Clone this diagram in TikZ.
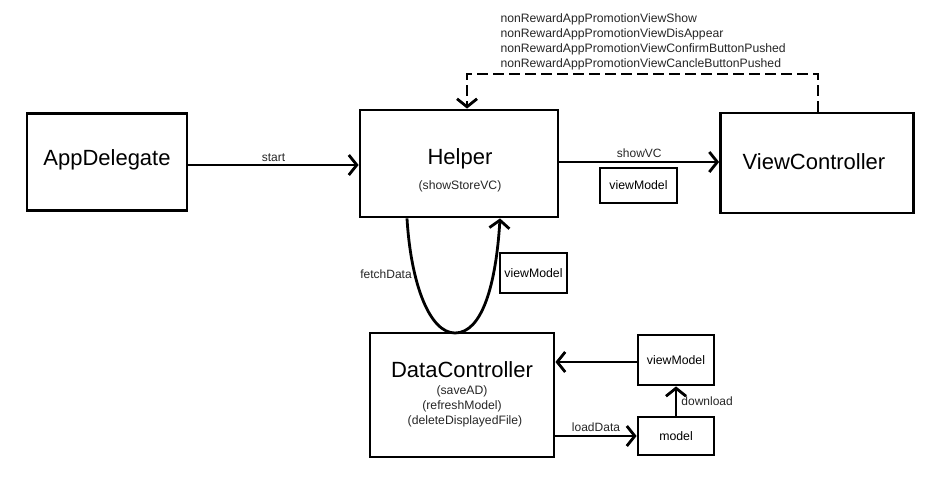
\documentclass[tikz,border=0pt]{standalone}
\usepackage{fontspec}
\setmainfont{Liberation Sans}
\usetikzlibrary{arrows.meta}
\tikzset{
  box/.style={draw, line width=2.8pt, rectangle, inner sep=0pt, align=center},
  bigtxt/.style={font=\fontsize{22}{26}\selectfont},
  smalltxt/.style={font=\fontsize{12.2}{14}\selectfont, text=black!85},
  lbl/.style={font=\fontsize{12}{14}\selectfont, text=black!85},
  arr/.style={line width=2.8pt, -{Straight Barb[length=8pt,width=20pt]}},
  dsh/.style={line width=2.8pt, dash pattern=on 11pt off 5pt, -{Straight Barb[length=8pt,width=20pt]}},
}
\begin{document}
\begin{tikzpicture}[x=1pt,y=-1pt]
\useasboundingbox (0,0) rectangle (927,482);
% boxes
\node[box, minimum width=160pt, minimum height=97pt] (app) at (107,162) {};
\node[bigtxt] (apptxt) at (107,160) {AppDelegate};
\node[box, minimum width=198pt, minimum height=107pt] (helper) at (459,163.5) {};
\node[bigtxt] (helpertxt) at (460,159) {Helper};
\node[smalltxt] (helpersub) at (460,186) {(showStoreVC)};
\node[box, minimum width=193pt, minimum height=100pt] (vc) at (817,163) {};
\node[bigtxt] (vctxt) at (814,162) {ViewController};
\node[box, minimum width=184pt, minimum height=124pt] (dc) at (462,395) {};
\node[bigtxt] (dctxt) at (462,370) {DataController};
\node[smalltxt] (dc1) at (462,391) {(saveAD)};
\node[smalltxt] (dc2) at (462,406) {(refreshModel)};
\node[smalltxt] (dc3) at (465,421) {(deleteDisplayedFile)};
\node[box, minimum width=77pt, minimum height=35pt, font=\fontsize{12.3}{14}\selectfont] (vm1) at (638.5,185.5) {viewModel};
\node[box, minimum width=67pt, minimum height=40pt, font=\fontsize{12.3}{14}\selectfont] (vm2) at (533.5,273) {viewModel};
\node[box, minimum width=76pt, minimum height=50pt, font=\fontsize{12.3}{14}\selectfont] (vm3) at (676,360) {viewModel};
\node[box, minimum width=76pt, minimum height=38pt, font=\fontsize{12.3}{14}\selectfont] (model) at (676,436) {model};
% event texts
\node[smalltxt, anchor=west] (e1) at (497,19) {nonRewardAppPromotionViewShow};
\node[smalltxt, anchor=west] (e2) at (497,34) {nonRewardAppPromotionViewDisAppear};
\node[smalltxt, anchor=west] (e3) at (497,49) {nonRewardAppPromotionViewConfirmButtonPushed};
\node[smalltxt, anchor=west] (e4) at (497,64) {nonRewardAppPromotionViewCancleButtonPushed};
% connectors
\draw[arr] ([yshift=-3pt]app.east) -- ([yshift=-3pt]app.east -| helper.west) node[midway, above, lbl, inner sep=2pt] (lstart) {start};
\draw[arr] ([yshift=1.5pt]helper.east) -- ([yshift=1.5pt]helper.east -| vc.west) node[midway, above, lbl, inner sep=3pt] (lshow) {showVC};
\coordinate (d1) at (467,74);
\draw[dsh] ([xshift=1pt]vc.north) |- (d1) -- (d1 |- helper.north);
\coordinate (cb) at (455,333);
\draw[arr] ([xshift=-52pt]helper.south) .. controls (411,285) and (430,333) .. (cb) .. controls (482,333) and (496,285) .. ([xshift=41pt]helper.south);
\node[lbl] (lfetch) at (386,274) {fetchData};
\draw[arr] ([yshift=-2pt]vm3.west) -- ([yshift=-2pt]vm3.west -| dc.east);
\draw[arr] (model.west -| dc.east) -- (model.west) node[midway, above, lbl, inner sep=3pt] (lload) {loadData};
\draw[arr] (model.north) -- (vm3.south) node[midway, right, lbl, inner sep=4pt] (ldown) {download};
\end{tikzpicture}
\end{document}
